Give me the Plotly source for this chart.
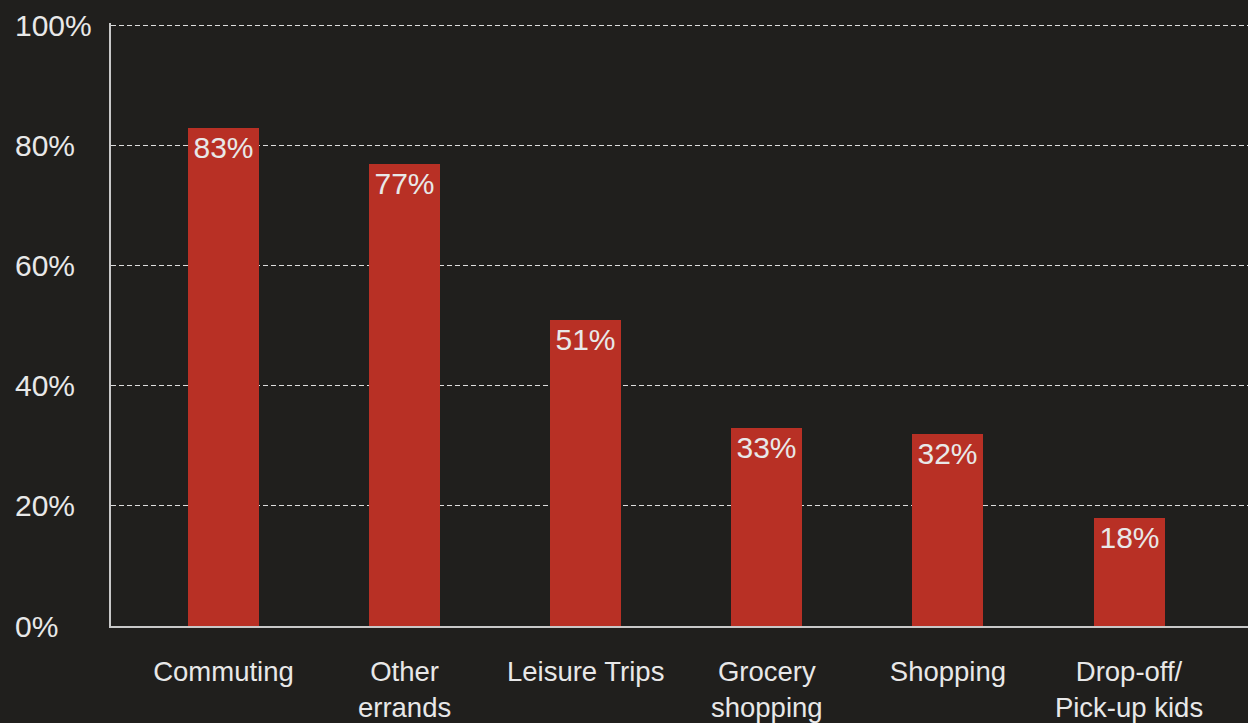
import plotly.graph_objects as go

# Share of respondents by trip purpose
categories = ["Commuting", "Other<br>errands", "Leisure Trips", "Grocery<br>shopping",
              "Shopping", "Drop-off/<br>Pick-up kids"]
shares = [83, 77, 51, 33, 32, 18]
y_ticks = [0, 20, 40, 60, 80, 100]
y_tick_labels = ["0%", "20%", "40%", "60%", "80%", "100%"]

BG = "#201f1d"
BAR = "#b83025"
TXT = "#e8e8e8"
FONT = "Liberation Sans, Arial, sans-serif"

fig = go.Figure()
fig.add_trace(go.Bar(
    x=list(range(len(categories))),
    y=shares,
    width=0.392,
    marker=dict(color=BAR, line=dict(width=0)),
    text=[f"{v}%" for v in shares],
    textposition="inside",
    insidetextanchor="end",
    textangle=0,
    constraintext="none",
    textfont=dict(family=FONT, size=30, color=TXT),
    hoverinfo="skip",
))

# invisible twin on the overlay axis so it draws the left spine
fig.add_trace(go.Scatter(x=[0], y=[0], yaxis="y2", mode="markers",
                         marker=dict(opacity=0), showlegend=False, hoverinfo="skip"))

Y_RANGE = [0, 100.4]

fig.update_layout(
    width=1248, height=723,
    paper_bgcolor=BG, plot_bgcolor=BG,
    margin=dict(l=14, r=0, t=23, b=95),
    showlegend=False,
    bargap=0,
    xaxis=dict(
        domain=[97 / 1234, 1],
        range=[-0.621, 5.657],
        tickmode="array",
        tickvals=list(range(len(categories))),
        ticktext=categories,
        tickfont=dict(family=FONT, size=27.5, color=TXT),
        showgrid=False, zeroline=False,
        showline=True, linecolor="#c8c8c8", linewidth=1.5,
        ticks="", ticklabelstandoff=20,
    ),
    # tick labels sit on a free axis at the far left, drawn to its right
    yaxis=dict(
        range=Y_RANGE,
        anchor="free", position=0, side="right",
        tickmode="array",
        tickvals=y_ticks,
        ticktext=y_tick_labels,
        tickfont=dict(family=FONT, size=30, color=TXT),
        showgrid=True, gridcolor="rgba(255,255,255,0.85)", griddash="5px,3px", gridwidth=1,
        zeroline=False, showline=False, ticks="", ticklabelstandoff=0,
    ),
    yaxis2=dict(
        range=Y_RANGE, overlaying="y", anchor="x", side="left",
        showline=True, linecolor="#c8c8c8", linewidth=1.5,
        showgrid=False, zeroline=False, showticklabels=False, ticks="",
    ),
)

fig.write_html("out.html")
